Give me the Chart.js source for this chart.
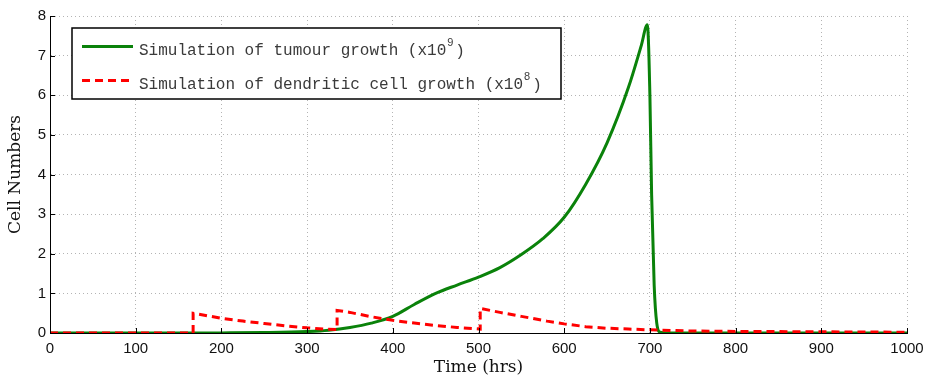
<!DOCTYPE html>
<html>
<head>
<meta charset="utf-8">
<script src="https://cdn.jsdelivr.net/npm/chart.js@4/dist/chart.umd.min.js"></script>
<style>
  html, body { margin: 0; background: #fff; }
  #wrap { width: 926px; height: 379px; }
</style>
</head>
<body>
<div id="wrap"><canvas id="cells"></canvas></div>
<script>
// ─── Data ──────────────────────────────────────────────────
// tumour population (x10^9) against time in hours
const tumourTime  = [0, 100, 200, 250, 300, 325, 350, 375, 400, 425, 450, 475, 500, 525, 550, 575, 600, 625, 650, 675, 690, 697, 700, 702, 705, 708, 712, 720, 800, 900, 1000];
const tumourCells = [0, 0, 0.003, 0.01, 0.035, 0.07, 0.14, 0.25, 0.42, 0.72, 1.0, 1.21, 1.41, 1.65, 1.98, 2.38, 2.92, 3.75, 4.8, 6.2, 7.26, 7.78, 6.0, 3.5, 1.2, 0.25, 0.02, 0, 0, 0, 0];

// dendritic cells (x10^8), injected at three doses -> vertical jumps
const dcTime  = [0, 167, 167, 185, 200, 225, 250, 275, 300, 320, 335, 335, 350, 375, 400, 425, 450, 475, 502, 502, 525, 550, 580, 600, 625, 650, 675, 700, 750, 800, 900, 1000];
const dcCells = [0, 0, 0.5, 0.43, 0.37, 0.3, 0.24, 0.18, 0.13, 0.1, 0.09, 0.57, 0.52, 0.41, 0.32, 0.25, 0.19, 0.14, 0.1, 0.62, 0.52, 0.42, 0.3, 0.23, 0.16, 0.12, 0.1, 0.08, 0.05, 0.04, 0.03, 0.02];

const xTicks = [0, 100, 200, 300, 400, 500, 600, 700, 800, 900, 1000];
const yTicks = [0, 1, 2, 3, 4, 5, 6, 7, 8];

const legendLabels = [
  ['Simulation of tumour growth (x10', '9', ')'],
  ['Simulation of dendritic cell growth (x10', '8', ')']
];

const GREEN = '#0a820a';
const RED   = '#ff0000';
const GRID  = '#b4b4b4';

const toPoints = (xs, ys) => xs.map((x, i) => ({ x, y: ys[i] }));

// ─── Plugins ───────────────────────────────────────────────
// inward tick marks along the left and bottom axes
const innerTicks = {
  id: 'innerTicks',
  afterDatasetsDraw(chart) {
    const { ctx, chartArea: a, scales: { x, y } } = chart;
    ctx.save();
    ctx.strokeStyle = '#000';
    ctx.lineWidth = 1;
    ctx.beginPath();
    xTicks.forEach(v => {
      const px = Math.round(x.getPixelForValue(v)) + 0.5;
      ctx.moveTo(px, a.bottom);
      ctx.lineTo(px, a.bottom - 5);
    });
    yTicks.forEach(v => {
      const py = Math.round(y.getPixelForValue(v)) + 0.5;
      ctx.moveTo(a.left, py);
      ctx.lineTo(a.left + 5, py);
    });
    ctx.stroke();
    ctx.restore();
  }
};

// boxed legend with superscript exponents
const boxLegend = {
  id: 'boxLegend',
  afterDraw(chart) {
    const { ctx, chartArea: a } = chart;
    const bx = a.left + 22, by = a.top + 12, bw = 489, bh = 71;
    ctx.save();
    ctx.fillStyle = '#fff';
    ctx.fillRect(bx, by, bw, bh);
    ctx.strokeStyle = '#000';
    ctx.lineWidth = 1.5;
    ctx.strokeRect(bx, by, bw, bh);

    chart.data.datasets.forEach((ds, i) => {
      const ly = by + 18.5 + i * 34;
      ctx.beginPath();
      ctx.strokeStyle = ds.borderColor;
      ctx.lineWidth = ds.borderWidth;
      ctx.setLineDash(ds.borderDash || []);
      ctx.moveTo(bx + 10, ly);
      ctx.lineTo(bx + 61, ly);
      ctx.stroke();
      ctx.setLineDash([]);

      const [main, sup, tail] = legendLabels[i];
      let tx = bx + 67;
      ctx.fillStyle = '#3a3a3a';
      ctx.textBaseline = 'middle';
      ctx.font = '16px "Liberation Mono", monospace';
      ctx.fillText(main, tx, ly + 4);
      tx += ctx.measureText(main).width + 1;
      ctx.font = '11px "Liberation Sans", sans-serif';
      ctx.fillText(sup, tx, ly - 4);
      tx += ctx.measureText(sup).width + 2;
      ctx.font = '16px "Liberation Mono", monospace';
      ctx.fillText(tail, tx, ly + 5);
    });
    ctx.restore();
  }
};

// ─── Chart ─────────────────────────────────────────────────
new Chart(document.getElementById('cells'), {
  type: 'line',
  data: {
    datasets: [
      {
        label: 'Simulation of tumour growth (x10^9)',
        data: toPoints(tumourTime, tumourCells),
        borderColor: GREEN,
        borderWidth: 3,
        pointRadius: 0,
        cubicInterpolationMode: 'monotone',
        order: 1
      },
      {
        label: 'Simulation of dendritic cell growth (x10^8)',
        data: toPoints(dcTime, dcCells),
        borderColor: RED,
        borderWidth: 3,
        borderDash: [8, 5],
        pointRadius: 0,
        tension: 0,
        order: 0
      }
    ]
  },
  options: {
    responsive: true,
    maintainAspectRatio: false,
    animation: false,
    layout: { padding: { top: 16, right: 19, left: 0, bottom: 0 } },
    plugins: { legend: { display: false }, tooltip: { enabled: false } },
    scales: {
      x: {
        type: 'linear',
        min: 0, max: 1000,
        afterBuildTicks: s => { s.ticks = xTicks.map(value => ({ value })); },
        afterFit: s => { s.height = 46; s.paddingLeft = 0; s.paddingRight = 0; },
        grid: { color: GRID, lineWidth: 1, drawTicks: false },
        border: { display: true, color: '#000', width: 1, dash: [1, 3] },
        ticks: {
          padding: 7, color: '#111',
          font: { family: '"Liberation Sans", Arial, sans-serif', size: 15 },
          callback: v => String(v)
        },
        title: {
          display: true, text: 'Time (hrs)', color: '#111',
          font: { family: '"DejaVu Serif", serif', size: 17 },
          padding: { top: 0, bottom: 1 }
        }
      },
      y: {
        min: 0, max: 8,
        afterBuildTicks: s => { s.ticks = yTicks.map(value => ({ value })); },
        afterFit: s => { s.width = 50; s.paddingTop = 0; s.paddingBottom = 0; },
        grid: { color: GRID, lineWidth: 1, drawTicks: false },
        border: { display: true, color: '#000', width: 1, dash: [1, 3] },
        ticks: {
          padding: 4, color: '#111',
          font: { family: '"Liberation Sans", Arial, sans-serif', size: 15 },
          callback: v => String(v)
        },
        title: {
          display: true, text: 'Cell Numbers', color: '#111',
          font: { family: '"DejaVu Serif", serif', size: 17 },
          padding: { top: 5, bottom: 0 }
        }
      }
    }
  },
  plugins: [innerTicks, boxLegend]
});
</script>
</body>
</html>
